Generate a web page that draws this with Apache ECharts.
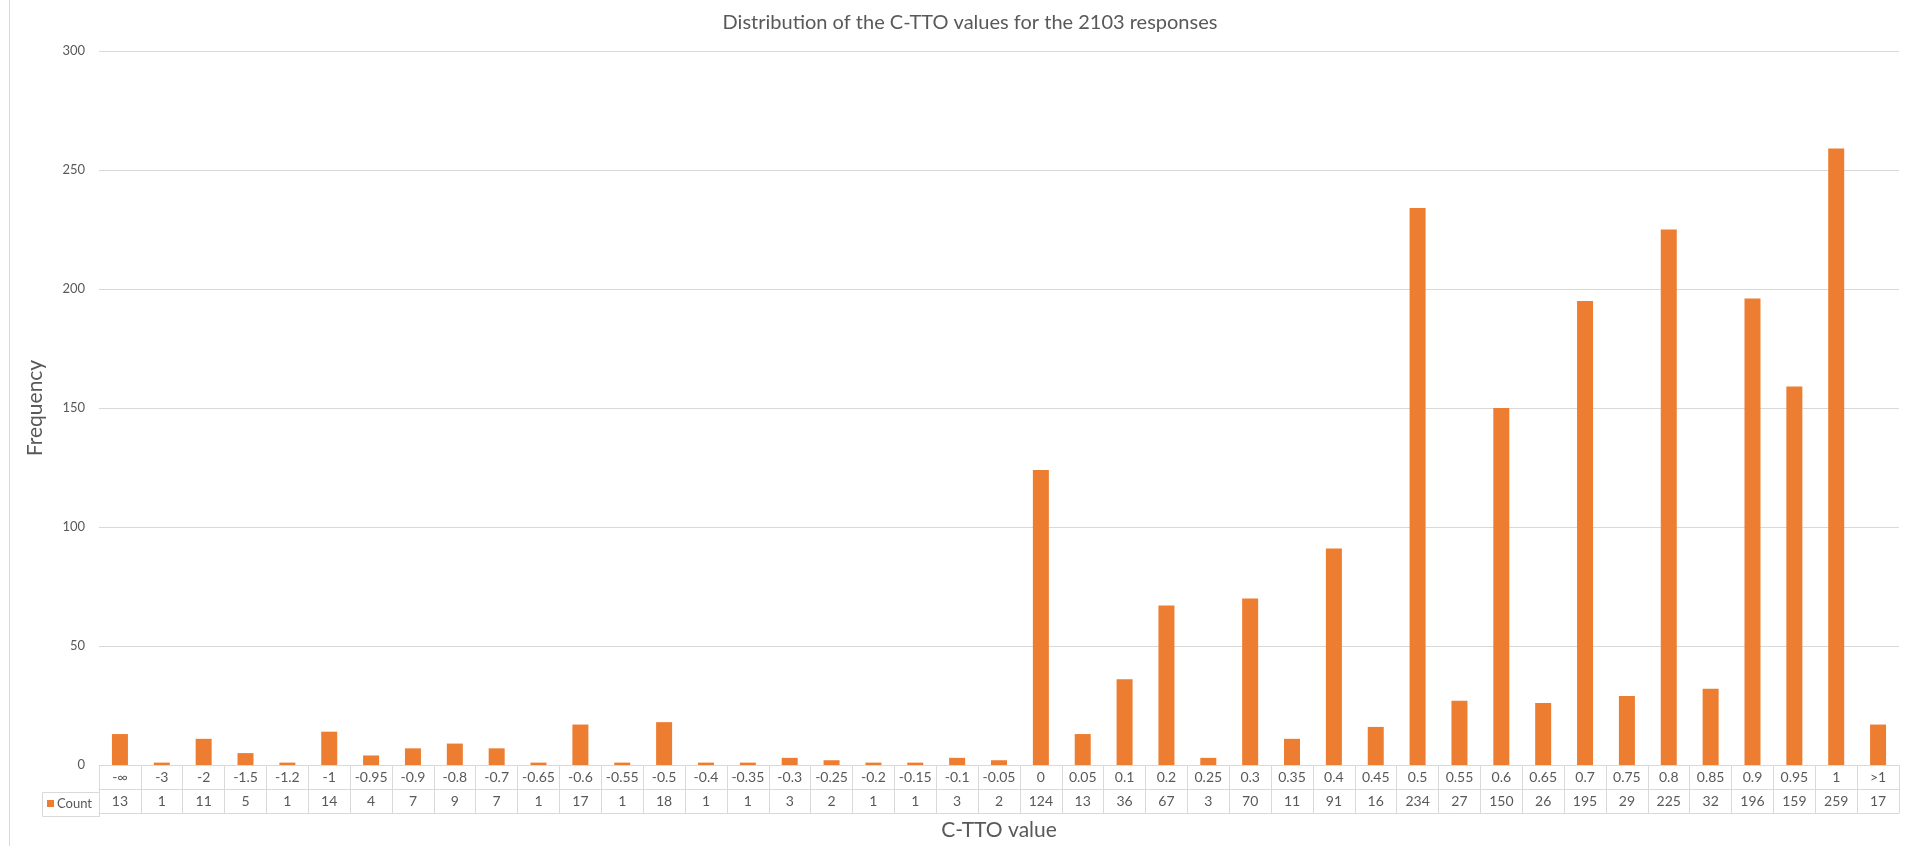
<!DOCTYPE html>
<html>
<head>
<meta charset="utf-8">
<title>C-TTO value distribution</title>
<script src="https://cdn.jsdelivr.net/npm/echarts@6/dist/echarts.min.js"></script>
<style>
  html, body { margin: 0; padding: 0; background: #ffffff; }
  #main { width: 1906px; height: 846px; }
</style>
</head>
<body>
<div id="main"></div>
<script>
// C-TTO value bins (0.15 has no responses and is not listed)
const categories = ['-∞', '-3', '-2', '-1.5', '-1.2', '-1', '-0.95', '-0.9', '-0.8', '-0.7',
  '-0.65', '-0.6', '-0.55', '-0.5', '-0.4', '-0.35', '-0.3', '-0.25', '-0.2', '-0.15',
  '-0.1', '-0.05', '0', '0.05', '0.1', '0.2', '0.25', '0.3', '0.35', '0.4',
  '0.45', '0.5', '0.55', '0.6', '0.65', '0.7', '0.75', '0.8', '0.85', '0.9',
  '0.95', '1', '>1'];

// Number of responses in each bin (2103 in total)
const counts = [13, 1, 11, 5, 1, 14, 4, 7, 9, 7,
  1, 17, 1, 18, 1, 1, 3, 2, 1, 1,
  3, 2, 124, 13, 36, 67, 3, 70, 11, 91,
  16, 234, 27, 150, 26, 195, 29, 225, 32, 196,
  159, 259, 17];

// Frequency axis range and step
const yMax = 300;
const yStep = 50;

const seriesName = 'Count';
const chartTitle = 'Distribution of the C-TTO values for the 2103 responses';
const xTitle = 'C-TTO value';
const yTitle = 'Frequency';

const FONT = 'Lato';
const TEXT = '#595959';
const RULE = '#d9d9d9';
const ORANGE = '#ED7D31';

const chart = echarts.init(document.getElementById('main'), null, { renderer: 'canvas' });

const option = {
  animation: false,
  backgroundColor: '#ffffff',
  textStyle: { fontFamily: FONT },
  title: {
    text: chartTitle,
    left: 965,
    top: 8,
    textAlign: 'center',
    textStyle: { fontFamily: FONT, fontSize: 20, fontWeight: 'normal', color: TEXT }
  },
  // legend key sits in the left cell of the data table's value row
  legend: {
    data: [seriesName],
    left: 47,
    top: 797,
    padding: 0,
    icon: 'rect',
    itemWidth: 7,
    itemHeight: 7,
    selectedMode: false,
    textStyle: { fontFamily: FONT, fontSize: 13, color: TEXT, padding: [0, 0, 0, -2] }
  },
  grid: { left: 99, right: 7, top: 51, bottom: 78, containLabel: false },
  xAxis: [
    {
      // category row of the data table; ticks form the column dividers
      type: 'category',
      data: categories,
      position: 'bottom',
      axisLine: { show: true, lineStyle: { color: RULE, width: 1 } },
      axisTick: { show: true, interval: 0, length: 48, lineStyle: { color: RULE } },
      axisLabel: { interval: 0, margin: 5, fontFamily: FONT, fontSize: 14, color: TEXT }
    },
    {
      // value row of the data table
      type: 'category',
      data: counts.map(String),
      position: 'bottom',
      offset: 24,
      axisLine: { show: true, lineStyle: { color: RULE, width: 1 } },
      axisTick: { show: false },
      axisLabel: { interval: 0, margin: 5, fontFamily: FONT, fontSize: 14, color: TEXT }
    },
    {
      // bottom edge of the table and axis title
      type: 'category',
      data: categories,
      position: 'bottom',
      offset: 48,
      axisLine: { show: true, lineStyle: { color: RULE, width: 1 } },
      axisTick: { show: false },
      axisLabel: { show: false },
      name: xTitle,
      nameLocation: 'middle',
      nameGap: 7,
      nameTextStyle: { fontFamily: FONT, fontSize: 21, color: TEXT }
    }
  ],
  yAxis: {
    type: 'value',
    min: 0,
    max: yMax,
    interval: yStep,
    axisLine: { show: false },
    axisTick: { show: false },
    axisLabel: { margin: 14, fontFamily: FONT, fontSize: 13, color: TEXT },
    splitLine: { show: true, lineStyle: { color: RULE, width: 1 } },
    name: yTitle,
    nameLocation: 'middle',
    nameGap: 53,
    nameTextStyle: { fontFamily: FONT, fontSize: 21, color: TEXT }
  },
  series: [
    {
      name: seriesName,
      type: 'bar',
      xAxisIndex: 0,
      data: counts,
      barWidth: 16,
      itemStyle: { color: ORANGE }
    }
  ],
  graphic: [
    // chart area edge on the left
    {
      type: 'line',
      shape: { x1: 9.5, y1: 0, x2: 9.5, y2: 846 },
      style: { stroke: RULE, lineWidth: 1 },
      silent: true
    },
    // legend cell of the data table
    {
      type: 'rect',
      shape: { x: 42.5, y: 792.5, width: 57, height: 24 },
      style: { fill: 'none', stroke: RULE, lineWidth: 1 },
      silent: true
    }
  ]
};

chart.setOption(option);
</script>
</body>
</html>
